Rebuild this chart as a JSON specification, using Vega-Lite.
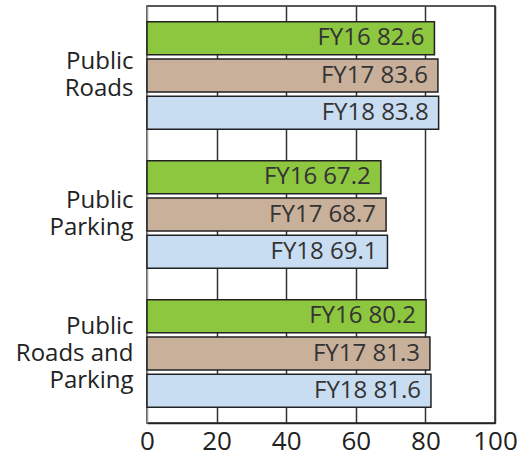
{
  "$schema": "https://vega.github.io/schema/vega-lite/v6.json",
  "width": 348,
  "height": 417,
  "autosize": "none",
  "padding": {"left": 147, "top": 6, "right": 22, "bottom": 31},
  "config": {"view": {"stroke": "#222", "strokeWidth": 1.5}, "font": "Open Sans"},
  "data": {
    "values": [
      {"cat": "Public|Roads", "fy": "FY16", "value": 82.6},
      {"cat": "Public|Roads", "fy": "FY17", "value": 83.6},
      {"cat": "Public|Roads", "fy": "FY18", "value": 83.8},
      {"cat": "Public|Parking", "fy": "FY16", "value": 67.2},
      {"cat": "Public|Parking", "fy": "FY17", "value": 68.7},
      {"cat": "Public|Parking", "fy": "FY18", "value": 69.1},
      {"cat": "Public|Roads and|Parking", "fy": "FY16", "value": 80.2},
      {"cat": "Public|Roads and|Parking", "fy": "FY17", "value": 81.3},
      {"cat": "Public|Roads and|Parking", "fy": "FY18", "value": 81.6}
    ]
  },
  "transform": [{"calculate": "datum.fy + ' ' + format(datum.value, '.1f')", "as": "label"}],
  "encoding": {
    "y": {
      "field": "cat", "type": "nominal",
      "sort": ["Public|Roads", "Public|Parking", "Public|Roads and|Parking"],
      "scale": {"paddingInner": 0, "paddingOuter": 0},
      "axis": {"title": null, "domain": false, "ticks": false, "labelExpr": "split(datum.value, '|')",
               "labelFontSize": 24, "labelAlign": "right", "labelPadding": 14, "labelLineHeight": 27, "labelColor": "#222",
               "labelOffset": {"condition": {"test": "indexof(datum.value, 'and') >= 0", "value": -27}, "value": -13.5}}
    },
    "yOffset": {"field": "fy", "type": "nominal", "sort": ["FY16", "FY17", "FY18"], "scale": {"paddingInner": 0.11, "paddingOuter": 0.42}},
    "x": {
      "field": "value", "type": "quantitative",
      "scale": {"domain": [0, 100], "nice": false},
      "axis": {"title": null, "values": [0, 20, 40, 60, 80, 100], "grid": true,
               "gridColor": {"condition": {"test": "datum.value === 0", "value": "#999"}, "value": "#333"},
               "gridWidth": 1.5, "domainColor": "#222", "domainWidth": 1.5, "ticks": false,
               "labelFontSize": 26, "labelPadding": 5, "labelColor": "#222", "labelFlush": false}
    }
  },
  "layer": [
    {
      "mark": {"type": "bar", "stroke": "#222", "strokeWidth": 1.5},
      "encoding": {
        "color": {"field": "fy", "type": "nominal", "legend": null,
                  "scale": {"domain": ["FY16", "FY17", "FY18"], "range": ["#8dc63f", "#c8b09a", "#c9ddf2"]}}
      }
    },
    {
      "mark": {"type": "text", "align": "right", "baseline": "middle", "dx": -10, "fontSize": 24, "color": "#333"},
      "encoding": {"text": {"field": "label"}}
    }
  ]
}
